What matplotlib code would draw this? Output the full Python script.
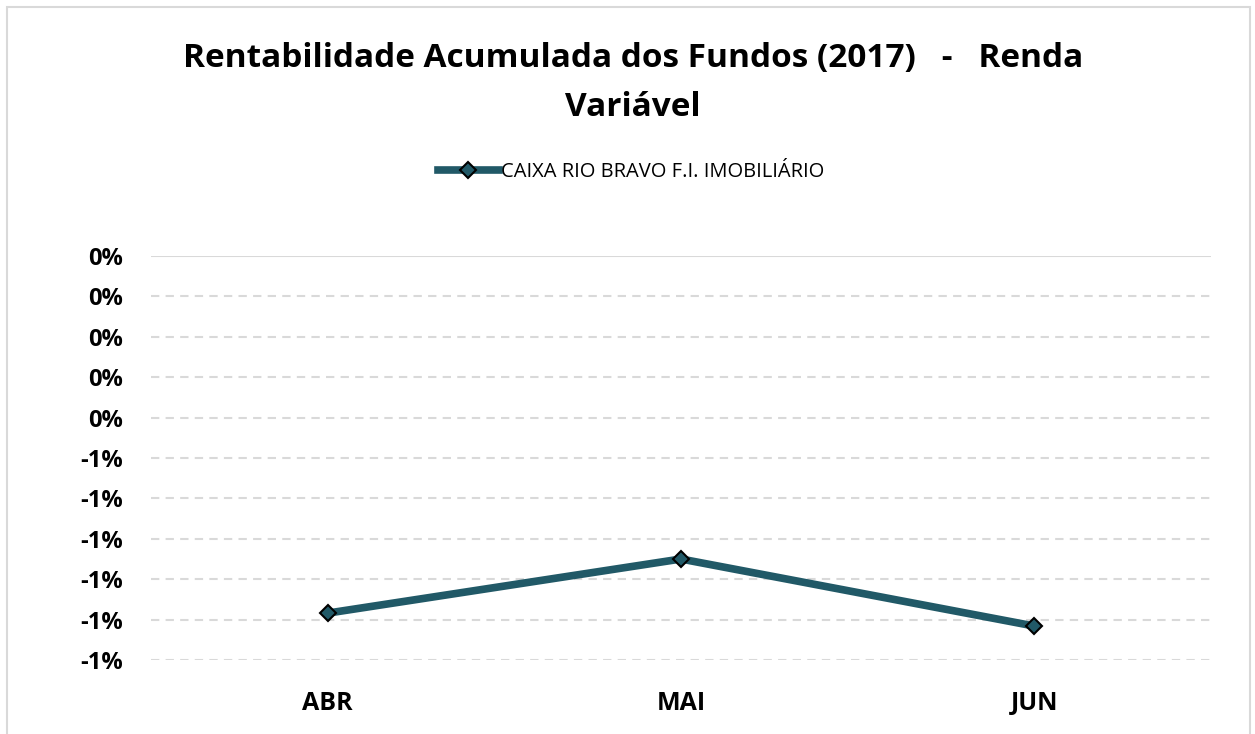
import matplotlib
matplotlib.use("Agg")
import matplotlib.pyplot as plt
from matplotlib.ticker import FuncFormatter
from matplotlib.lines import Line2D
from matplotlib.patches import Rectangle

categories = ["ABR", "MAI", "JUN"]
values = [-0.00884, -0.0075, -0.00916]
series_name = "CAIXA RIO BRAVO F.I. IMOBILIÁRIO"
title_line1 = "Rentabilidade Acumulada dos Fundos (2017)   -   Renda"
title_line2 = "Variável"

plt.rcParams['font.family'] = ['Open Sans', 'DejaVu Sans']

W, H = 1255, 734
fig = plt.figure(figsize=(W/100, H/100), dpi=100)
fig.patches.append(Rectangle((7/W, -0.01), (1250-7)/W, 1 - 7/H + 0.01, transform=fig.transFigure,
                             fill=False, edgecolor="#d9d9d9", linewidth=1.5))

ax = fig.add_axes([151/W, 1 - 660/H, (1211-151)/W, (660-256)/H])
color = "#215967"
x = list(range(len(categories)))
ax.plot(x, values, color=color, linewidth=5.5, marker="D", markersize=8,
        markerfacecolor=color, markeredgecolor="black", markeredgewidth=1.5, solid_capstyle="round")
ax.set_xlim(-0.5, len(categories) - 0.5)
ax.set_ylim(-0.01, 0.0)
yt = [i * -0.001 for i in range(11)]
ax.set_yticks(yt)
ax.yaxis.set_major_formatter(FuncFormatter(lambda v, p: "-1%" if v < -0.0049 else "0%"))
ax.set_xticks(x)
ax.set_xticklabels(categories)
for sp in ax.spines.values():
    sp.set_visible(False)
ax.tick_params(length=0)
ax.tick_params(axis="y", pad=20, labelsize=17)
ax.tick_params(axis="x", pad=22, labelsize=18)
for lab in ax.get_xticklabels() + ax.get_yticklabels():
    lab.set_fontweight("bold")
for v in yt:
    if v == 0.0:
        ax.axhline(v, color="#d9d9d9", linewidth=1.5, zorder=0)
    else:
        ax.axhline(v, color="#d9d9d9", linewidth=1.5, linestyle=(0, (4, 3)), zorder=0)

fig.text(633/W, 1 - 59/H, title_line1, ha="center", va="center", fontsize=24, fontweight="bold")
fig.text(633/W, 1 - 107/H, title_line2, ha="center", va="center", fontsize=24, fontweight="bold")

handle = Line2D([], [], color=color, linewidth=5.5, marker="D", markersize=8,
                markerfacecolor=color, markeredgecolor="black", markeredgewidth=1.5)
fig.legend([handle], [series_name], loc="center", bbox_to_anchor=(631/W, 1 - 172/H),
           frameon=False, fontsize=14.5, handlelength=3.0, handletextpad=0.1)

fig.savefig("out.png", dpi=100)
